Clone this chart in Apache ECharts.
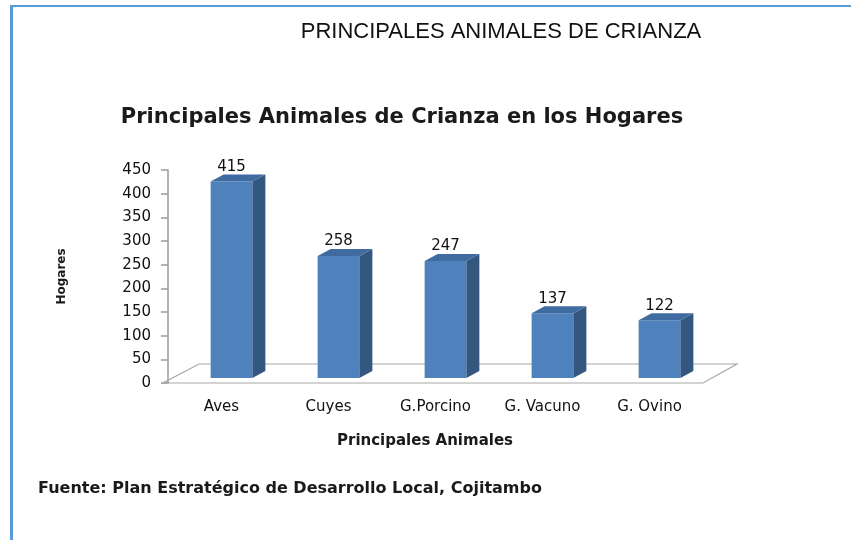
<!DOCTYPE html>
<html>
<head>
<meta charset="utf-8">
<script src="https://cdn.jsdelivr.net/npm/echarts@6/dist/echarts.min.js"></script>
<style>
  html, body { margin: 0; padding: 0; background: #fff; }
  #main { width: 851px; height: 540px; }
</style>
</head>
<body>
<div id="main"></div>
<script>
// data
var categories = ['Aves', 'Cuyes', 'G.Porcino', 'G. Vacuno', 'G. Ovino'];
var hogares = [415, 258, 247, 137, 122];
var yTicks = { min: 0, max: 450, interval: 50 };

var myChart = echarts.init(document.getElementById('main'));

// fake 3D column: front face, side, top, value above
function renderBar(params, api) {
  var cat = api.value(0), val = api.value(1);
  var base = api.coord([cat, 0]);
  var top = api.coord([cat, val]);
  var band = api.size([1, 0])[0];
  var w = band * 0.39, dx = 13, dy = 7, sx = 10, sy = -5;
  var x = base[0] + sx - w / 2;
  var y = top[1] + sy;
  var yb = base[1] + sy;
  var children = [];

  if (params.dataIndex === 0) {
    var cs = params.coordSys;
    var fl = cs.x - 5, fr = cs.x + cs.width, yf = cs.y + cs.height;
    children.push({
      type: 'polygon',
      shape: { points: [[fl, yf], [fr, yf], [fr + 34, yf - 19], [fl + 36, yf - 19]] },
      style: { fill: 'none', stroke: '#a8a8a8', lineWidth: 1.2 }
    });
  }

  children.push({
    type: 'rect',
    shape: { x: x, y: y, width: w, height: yb - y },
    style: { fill: '#4f81bd' }
  });
  children.push({
    type: 'polygon',
    shape: { points: [[x + w, y], [x + w + dx, y - dy], [x + w + dx, yb - dy], [x + w, yb]] },
    style: { fill: '#34577f' }
  });
  children.push({
    type: 'polygon',
    shape: { points: [[x, y], [x + dx, y - dy], [x + w + dx, y - dy], [x + w, y]] },
    style: { fill: '#3f6ba1' }
  });
  children.push({
    type: 'text',
    style: {
      text: String(val), x: x + w / 2, y: y - dy,
      align: 'center', verticalAlign: 'bottom',
      fill: '#111', font: '15px "DejaVu Sans", sans-serif'
    }
  });
  return { type: 'group', children: children };
}

var option = {
  animation: false,
  title: [
    {
      text: 'PRINCIPALES ANIMALES DE CRIANZA',
      left: 501, top: 21, textAlign: 'center', padding: 0,
      textStyle: { fontSize: 22, fontWeight: 'normal', color: '#111', fontFamily: 'Liberation Sans' }
    },
    {
      text: 'Principales Animales de Crianza en los Hogares',
      left: 402, top: 107, textAlign: 'center', padding: 0,
      textStyle: { fontSize: 21, fontWeight: 'bold', color: '#1a1a1a', fontFamily: 'DejaVu Sans' }
    },
    {
      text: 'Principales Animales',
      left: 425, top: 434, textAlign: 'center', padding: 0,
      textStyle: { fontSize: 15, fontWeight: 'bold', color: '#1a1a1a', fontFamily: 'DejaVu Sans' }
    },
    {
      text: 'Fuente: Plan Estratégico de Desarrollo Local, Cojitambo',
      left: 38, top: 481, padding: 0,
      textStyle: { fontSize: 16, fontWeight: 'bold', color: '#1a1a1a', fontFamily: 'DejaVu Sans' }
    }
  ],
  graphic: [
    { type: 'line', shape: { x1: 11, y1: 6, x2: 851, y2: 6 }, style: { stroke: '#5b9bd5', lineWidth: 2 } },
    { type: 'line', shape: { x1: 11.5, y1: 5, x2: 11.5, y2: 540 }, style: { stroke: '#5b9bd5', lineWidth: 3 } }
  ],
  grid: { left: 168, right: 148, top: 170, bottom: 157 },
  xAxis: {
    type: 'category',
    data: categories,
    axisLine: { show: false },
    axisTick: { show: false },
    axisLabel: {
      interval: 0, margin: 17, color: '#111', fontSize: 15,
      fontFamily: 'DejaVu Sans'
    }
  },
  yAxis: {
    type: 'value',
    min: yTicks.min, max: yTicks.max, interval: yTicks.interval,
    name: 'Hogares',
    nameLocation: 'middle',
    nameGap: 100,
    nameTextStyle: { fontSize: 12, fontWeight: 'bold', color: '#1a1a1a', fontFamily: 'DejaVu Sans' },
    axisLine: { show: true, lineStyle: { color: '#9a9a9a', width: 1.5 } },
    axisTick: { show: true, length: 7, lineStyle: { color: '#9a9a9a', width: 1.5 } },
    splitLine: { show: false },
    axisLabel: { margin: 17, color: '#111', fontSize: 15, fontFamily: 'DejaVu Sans' }
  },
  series: [
    {
      type: 'custom',
      renderItem: renderBar,
      data: hogares.map(function (v, i) { return [i, v]; }),
      encode: { x: 0, y: 1 }
    }
  ]
};

myChart.setOption(option);
</script>
</body>
</html>
